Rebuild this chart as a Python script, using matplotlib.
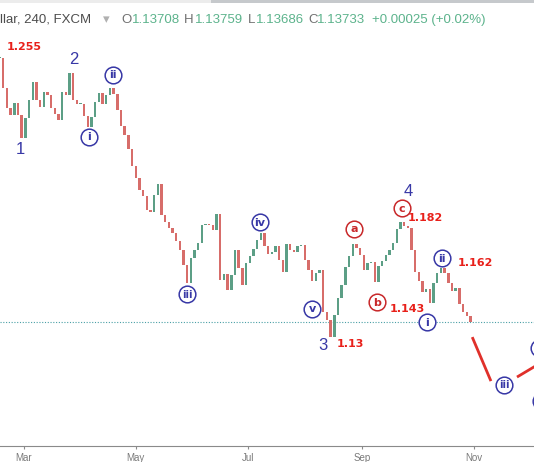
import matplotlib
matplotlib.use("Agg")
import matplotlib.pyplot as plt
import matplotlib.dates as mdates
import matplotlib.transforms as mtransforms
from matplotlib.patches import Rectangle
import numpy as np
import pandas as pd

# EUR/USD 4h closes, one sample every 2 days
start_date = "2018-02-16"
closes = [
    1.2554, 1.2420, 1.2330, 1.2299, 1.2353, 1.2299, 1.2196, 1.2286, 1.2366, 1.2447,
    1.2366, 1.2335, 1.2402, 1.2389, 1.2330, 1.2304, 1.2277, 1.2402, 1.2389, 1.2487,
    1.2366, 1.2348, 1.2348, 1.2295, 1.2245, 1.2290, 1.2357, 1.2398, 1.2348, 1.2389,
    1.2420, 1.2393, 1.2321, 1.2250, 1.2209, 1.2147, 1.2071, 1.2017, 1.1963, 1.1936,
    1.1873, 1.1865, 1.1941, 1.1990, 1.1851, 1.1820, 1.1793, 1.1770, 1.1735, 1.1694,
    1.1627, 1.1546, 1.1658, 1.1694, 1.1726, 1.1806, 1.1811, 1.1806, 1.1784, 1.1856,
    1.1560, 1.1587, 1.1515, 1.1582, 1.1694, 1.1614, 1.1537, 1.1636, 1.1667, 1.1699,
    1.1739, 1.1770, 1.1712, 1.1676, 1.1685, 1.1712, 1.1649, 1.1596, 1.1721, 1.1694,
    1.1685, 1.1712, 1.1717, 1.1649, 1.1605, 1.1555, 1.1591, 1.1605, 1.1416, 1.1381,
    1.1304, 1.1403, 1.1479, 1.1537, 1.1618, 1.1667, 1.1721, 1.1703, 1.1672, 1.1605,
    1.1636, 1.1640, 1.1551, 1.1623, 1.1645, 1.1672, 1.1694, 1.1726, 1.1788, 1.1820,
    1.1802, 1.1793, 1.1694, 1.1596, 1.1555, 1.1506, 1.1520, 1.1457, 1.1546, 1.1591,
    1.1614, 1.1591, 1.1546, 1.1511, 1.1524, 1.1452, 1.1416, 1.1399, 1.13733,
]
last_price = 1.13733

header_name = "llar, 240, FXCM"
header_keys = ["O", "H", "L", "C"]
header_ohlc = ["1.13708", "1.13759", "1.13686", "1.13733"]
header_change = "+0.00025 (+0.02%)"

# projected path (red lines)
proj_dates_1 = ["2018-10-31 00:00", "2018-11-10 04:00"]
proj_prices_1 = [1.1304, 1.1107]
proj_dates_2 = ["2018-11-24 08:00", "2018-12-11 00:00"]
proj_prices_2 = [1.1125, 1.1207]

W, H = 534, 462
fig = plt.figure(figsize=(W / 100, H / 100), dpi=100)
ax = fig.add_axes([0, 16 / H, 1, 446 / H])
px = mtransforms.Affine2D().scale(1 / W, -1 / H).translate(0, 1) + fig.transFigure

# candles: open = previous close
dates = pd.date_range(start_date, periods=len(closes), freq="2D")
x = mdates.date2num(dates)
c = np.array(closes)
o = np.r_[c[0], c[:-1]]
colors = np.where(c >= o, "#5c9f86", "#d76d6a")
ax.bar(x, np.maximum(np.abs(c - o), 0.0004), bottom=np.minimum(o, c),
       width=1.3, color=colors, linewidth=0, zorder=3)

ax.axhline(last_price, color="#4aa0a6", lw=0.8, ls=(0, (1, 1.5)), zorder=2)

for d, p in [(proj_dates_1, proj_prices_1), (proj_dates_2, proj_prices_2)]:
    ax.plot(mdates.date2num(pd.to_datetime(d)), p, color="#e0302a", lw=2, zorder=4,
            solid_capstyle="butt")

ax.set_xlim(mdates.date2num(pd.Timestamp("2018-02-16 05:00")),
            mdates.date2num(pd.Timestamp("2018-12-03 14:00")))
ax.set_ylim(1.081616, 1.281424)

ax.xaxis.set_major_locator(mdates.MonthLocator(bymonth=[3, 5, 7, 9, 11]))
ax.xaxis.set_major_formatter(mdates.DateFormatter("%b"))
ax.set_yticks([])
for s in ["top", "left", "right"]:
    ax.spines[s].set_visible(False)
ax.spines["bottom"].set_color("#8a8a8a")
ax.tick_params(axis="x", length=2.5, color="#8a8a8a", labelsize=7,
               labelcolor="#7a7a7a", pad=2.5)
for t in ax.get_xticklabels():
    t.set_family("Liberation Sans")

# wave labels
blue = "#3838a6"
for txt, xx, yy in [("1", 20, 150), ("2", 74, 60), ("3", 323, 345), ("4", 408, 192)]:
    ax.text(xx, yy, txt, transform=px, ha="center", va="center", fontsize=12,
            color=blue, family="Liberation Sans", zorder=6)

for txt, xx, yy in [("1.255", 24, 47), ("1.182", 425, 218), ("1.162", 475, 263),
                    ("1.143", 407, 309), ("1.13", 350, 344)]:
    ax.text(xx, yy, txt, transform=px, ha="center", va="center", fontsize=8,
            fontweight="bold", color="#e8201a", zorder=6)

circ_blue = [("i", 89, 137), ("ii", 113, 75), ("iii", 187, 294), ("iv", 260, 222),
             ("v", 312, 309), ("i", 427, 322), ("ii", 442, 258), ("iii", 504, 385)]
circ_red = [("a", 354, 229), ("b", 377, 302), ("c", 402, 208)]
for items, col in [(circ_blue, blue), (circ_red, "#c8282a")]:
    for txt, xx, yy in items:
        ax.plot([xx], [yy], "o", transform=px, ms=12, mfc="white", mec=col,
                mew=1.1, zorder=7)
        ax.text(xx, yy + 0.5, txt, transform=px, ha="center", va="center",
                fontsize=8 if len(txt) < 3 else 7, fontweight="bold", color=col,
                zorder=8)
# circles cut by the right edge (their labels fall outside the picture)
for xx, yy in [(539, 348), (541, 401)]:
    ax.plot([xx], [yy], "o", transform=px, ms=12, mfc="white", mec=blue,
            mew=1.1, zorder=7, clip_on=True)

# header line
hdr = dict(transform=px, va="center", ha="left", fontsize=9.5,
           family=["Liberation Sans", "DejaVu Sans"])
fig.text(0, 20, header_name, color="#4d4d4d", **hdr)
fig.text(103, 20, "▾", color="#b0b0b0", **hdr)
for k, v, xk, xv in zip(header_keys, header_ohlc, [121, 184, 248, 308], [132, 195, 256, 317]):
    fig.text(xk, 20, k, color="#707070", **hdr)
    fig.text(xv, 20, v, color="#5cb38c", **hdr)
fig.text(372, 20, header_change, color="#5cb38c", **hdr)

fig.patches.append(Rectangle((0, 0), W, 2.5, transform=px, color="#ececec", lw=0))
fig.patches.append(Rectangle((211, 0), W - 211, 2.5, transform=px, color="#c6c9cc", lw=0))

fig.savefig("out.png", dpi=100, facecolor="white")
